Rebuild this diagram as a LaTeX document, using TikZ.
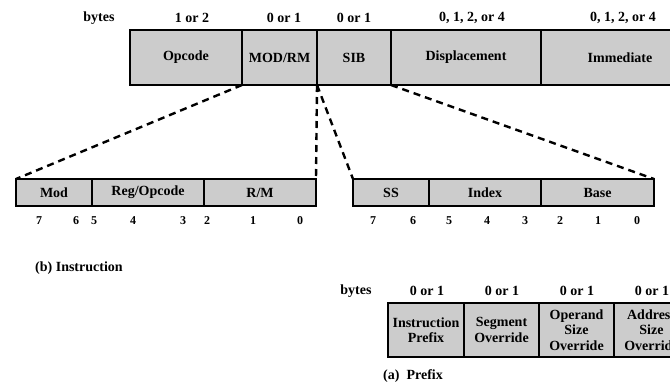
\documentclass[tikz,border=0pt]{standalone}
\usepackage{fontspec}
\setmainfont{Liberation Serif}
\begin{document}
\begin{tikzpicture}[x=1pt,y=-1pt,
  font=\bfseries\fontsize{14}{15.5}\selectfont,
  cell/.style={draw=black, line width=1.3pt, fill=cellgray, anchor=north west,
    inner sep=0pt, outer sep=0pt, align=center},
  lbl/.style={inner sep=0pt, anchor=center},
  bit/.style={inner sep=0pt, anchor=center, font=\bfseries\fontsize{12}{13}\selectfont},
  zoomline/.style={draw=black, line width=2.4pt, dash pattern=on 7pt off 5pt}]
\definecolor{cellgray}{RGB}{204,204,204}
\useasboundingbox (0,0) rectangle (670,381);
\clip (0,0) rectangle (670,381);
% top row labels
\node[lbl] (tb) at (99,18) {bytes};
\node[lbl] (t1) at (192,18) {1 or 2};
\node[lbl] (t2) at (284,18) {0 or 1};
\node[lbl] (t3) at (354,18) {0 or 1};
\node[lbl] (t4) at (472,18) {0, 1, 2, or 4};
\node[lbl] (t5) at (623,18) {0, 1, 2, or 4};
% instruction fields
\node[cell, minimum width=112pt, minimum height=55pt] (op) at (130,30) {Opcode};
\node[cell, minimum width=75pt, minimum height=55pt] (modrm) at (242,30) {MOD/RM};
\node[cell, minimum width=74pt, minimum height=55pt] (sib) at (317,30) {SIB};
\node[cell, minimum width=150pt, minimum height=55pt] (disp) at (391,30) {Displacement};
\node[cell, minimum width=158pt, minimum height=55pt] (imm) at (541,30) {Immediate};
% ModR/M byte
\node[cell, minimum width=76pt, minimum height=27pt] (mod) at (16,179) {Mod};
\node[cell, minimum width=112pt, minimum height=27pt] (reg) at (92,179) {Reg/Opcode};
\node[cell, minimum width=112pt, minimum height=27pt] (rm) at (204,179) {R/M};
% SIB byte
\node[cell, minimum width=76pt, minimum height=27pt] (ss) at (353,179) {SS};
\node[cell, minimum width=112pt, minimum height=27pt] (idx) at (429,179) {Index};
\node[cell, minimum width=113pt, minimum height=27pt] (base) at (541,179) {Base};
% bit numbers
\node[bit] (l7) at (39,221) {7};
\node[bit] (l6) at (76,221) {6};
\node[bit] (l5) at (94,221) {5};
\node[bit] (l4) at (133,221) {4};
\node[bit] (l3) at (183,221) {3};
\node[bit] (l2) at (207,221) {2};
\node[bit] (l1) at (253,221) {1};
\node[bit] (l0) at (300,221) {0};
\node[bit] (r7) at (373,221) {7};
\node[bit] (r6) at (413,221) {6};
\node[bit] (r5) at (449,221) {5};
\node[bit] (r4) at (487,221) {4};
\node[bit] (r3) at (525,221) {3};
\node[bit] (r2) at (560,221) {2};
\node[bit] (r1) at (598,221) {1};
\node[bit] (r0) at (637,221) {0};
% zoom lines
\draw[zoomline] (op.south east) -- (mod.north west);
\draw[zoomline] (modrm.south east) -- (rm.north east);
\draw[zoomline] (modrm.south east) -- (ss.north west);
\draw[zoomline] (sib.south east) -- (base.north east);
% caption (b)
\node[inner sep=0pt, anchor=west] (capb) at (35,268) {(b) Instruction};
% prefix labels
\node[lbl] (pb) at (356,291) {bytes};
\node[lbl] (q1) at (427,291) {0 or 1};
\node[lbl] (q2) at (502,291) {0 or 1};
\node[lbl] (q3) at (577,291) {0 or 1};
\node[lbl] (q4) at (652,291) {0 or 1};
% prefix fields
\node[cell, minimum width=76pt, minimum height=54pt] (p1) at (388,303) {Instruction\\Prefix};
\node[cell, minimum width=75pt, minimum height=54pt] (p2) at (464,303) {Segment\\Override};
\node[cell, minimum width=75pt, minimum height=54pt] (p3) at (539,303) {Operand\\Size\\Override};
\node[cell, minimum width=75pt, minimum height=54pt] (p4) at (614,303) {Address\\Size\\Override};
\node[inner sep=0pt, anchor=west] (capa) at (383,376) {(a)\ \ Prefix};
\end{tikzpicture}
\end{document}
